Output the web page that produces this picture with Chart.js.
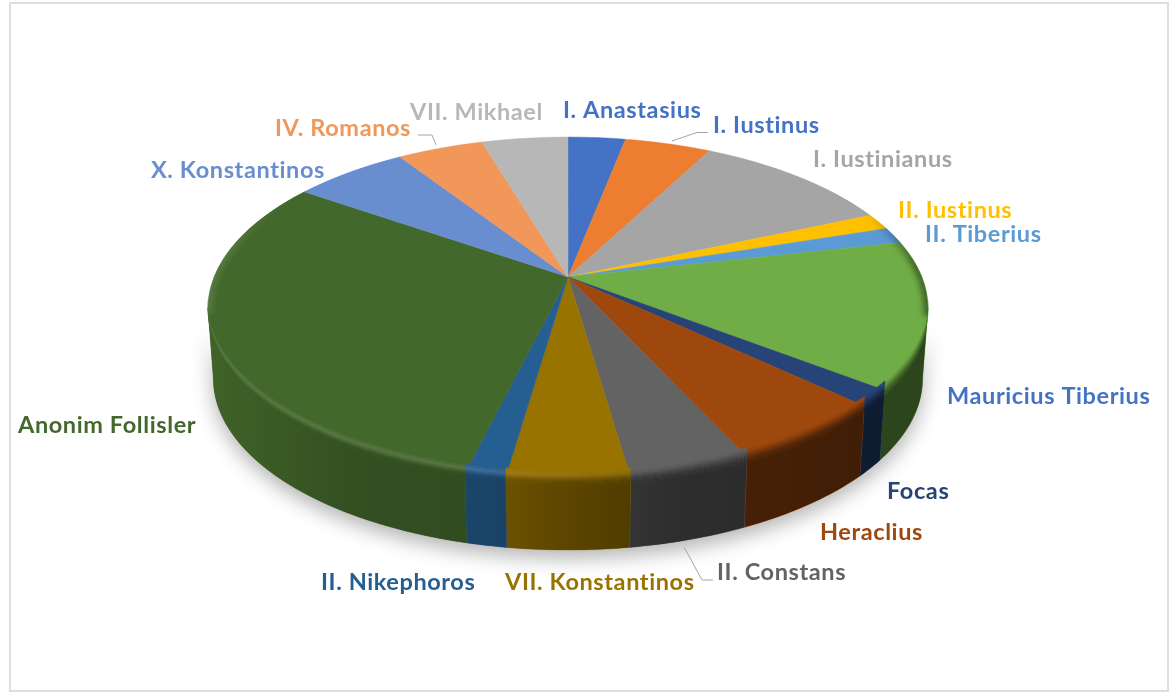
<!DOCTYPE html>
<html>
<head>
<meta charset="utf-8">
<script src="https://cdn.jsdelivr.net/npm/chart.js@4"></script>
<style>
  html, body { margin: 0; padding: 0; background: #fff; }
  #wrap { width: 1174px; height: 693px; }
</style>
</head>
<body>
<div id="wrap"><canvas id="pie"></canvas></div>
<script>
// sikke sayilari
const categories = ["I. Anastasius","I. Iustinus","I. Iustinianus","II. Iustinus","II. Tiberius","Mauricius Tiberius","Focas","Heraclius","II. Constans","VII. Konstantinos","II. Nikephoros","Anonim Follisler","X. Konstantinos","IV. Romanos","VII. Mikhael"];
const counts = [2,3,7,1,1,9,1,4,3,3,1,20,4,3,3];
const colors = ["#4472C4","#ED7D31","#A5A5A5","#FFC000","#5B9BD5","#70AD47","#264478","#9E480E","#636363","#997300","#255E91","#43682B","#698ED0","#F1975A","#B7B7B7"];
// two labels are not in their slice colour in the original
const labelColors = ["#4472C4","#4472C4","#A5A5A5","#FFC000","#5B9BD5","#4472C4","#264478","#9E480E","#636363","#997300","#255E91","#43682B","#698ED0","#F1975A","#B7B7B7"];

// where each label starts (left x, middle y)
const labelX = [563,713,813,898,925,947,887,820,717,505,321,18,151,275,410];
const labelY = [110,125,159,210,234,396,491,532,572,582,582,425,170,128,112];
const leaders = [
  [[672,141],[697,132.5],[708,132.5]],
  [[418,135],[432,135],[436,145]],
  [[684,547],[702,580],[713,580]]
];

// perspective of the disc: apex on screen, and how the flat circle maps to it
const apexX = 568, apexY = 277, persp = -0.1837, sx = 353.9, sy = 165.7;
const depth = 70, shrink = 0.015;
const rad = Math.PI / 180;

function rim(a, k) {
  const v = Math.sin(a), w = 1 + persp * v;
  const x = sx * Math.cos(a) / w;
  return [apexX + x * (1 - shrink * k / depth), apexY + sy * v / w + k];
}

function curve(ctx, a0, a1, k, back) {
  const n = Math.max(2, Math.ceil((a1 - a0) / rad));
  for (let i = 0; i <= n; i++) {
    const p = rim(back ? a1 - (a1 - a0) * i / n : a0 + (a1 - a0) * i / n, k);
    (i || back) ? ctx.lineTo(p[0], p[1]) : ctx.moveTo(p[0], p[1]);
  }
}

function band(ctx, a0, a1, k0, k1) {
  ctx.beginPath();
  curve(ctx, a0, a1, k0, false);
  curve(ctx, a0, a1, k1, true);
  ctx.closePath();
}

function stops(g, list) {
  list.forEach(s => g.addColorStop((s[0] - 208) / 720, s[1]));
  return g;
}

const disc3d = {
  id: 'disc3d',
  beforeDatasetDraw(chart) {
    const ctx = chart.ctx;
    const arcs = chart.getDatasetMeta(0).data;
    const cx = arcs[0].x, cy = arcs[0].y, R = arcs[0].outerRadius;
    const shade = stops(ctx.createLinearGradient(208, 0, 928, 0), [
      [208,'rgba(0,0,0,.05)'],[350,'rgba(0,0,0,.23)'],[490,'rgba(0,0,0,.28)'],[560,'rgba(0,0,0,.39)'],
      [680,'rgba(0,0,0,.54)'],[800,'rgba(0,0,0,.57)'],[870,'rgba(0,0,0,.6)'],[928,'rgba(0,0,0,.6)']]);
    const glow = stops(ctx.createLinearGradient(208, 0, 928, 0), [
      [208,'rgba(255,255,255,.14)'],[470,'rgba(255,255,255,.14)'],[620,'rgba(255,255,255,.05)'],[720,'rgba(255,255,255,0)'],[928,'rgba(255,255,255,0)']]);

    // the wall only shows between the two points where the rim turns back
    const from = 10.6 * rad, to = 169.4 * rad;

    // soft shadow under the disc
    ctx.save();
    ctx.shadowColor = 'rgba(0,0,0,.3)';
    ctx.shadowBlur = 20;
    ctx.shadowOffsetY = 8;
    ctx.fillStyle = '#555';
    band(ctx, from, to, 0, depth);
    ctx.fill();
    ctx.restore();

    // side wall
    arcs.forEach((arc, i) => {
      const a0 = Math.max(arc.startAngle, from), a1 = Math.min(arc.endAngle, to);
      if (a1 <= a0) return;
      band(ctx, a0, a1, 0, depth);
      ctx.fillStyle = colors[i];
      ctx.strokeStyle = colors[i];
      ctx.lineWidth = 0.5;
      ctx.fill();
      ctx.stroke();
      ctx.fillStyle = shade;
      ctx.fill();
    });

    // top face: canvas has no perspective transform, so draw the arcs line by line
    for (let y = 134; y < 484; y++) {
      const dy = y + 0.5 - apexY;
      const v = dy / (sy - persp * dy);
      const w = 1 + persp * v;
      const kx = sx / w / R, ky = sy / (w * w) / R;
      ctx.save();
      ctx.beginPath();
      ctx.rect(0, y, chart.width, 1);
      ctx.clip();
      ctx.setTransform(kx, 0, 0, ky, apexX - kx * cx, y + 0.5 - ky * (cy + v * R));
      arcs.forEach(arc => arc.draw(ctx));
      ctx.restore();
    }

    // rounded edge between top and wall
    for (let k = -10; k < 5; k++) {
      const t = (k + 10.5) / 15;
      arcs.forEach((arc, i) => {
        const a0 = Math.max(arc.startAngle, from), a1 = Math.min(arc.endAngle, to);
        if (a1 <= a0) return;
        band(ctx, a0, a1, k, k + 1.5);
        ctx.globalAlpha = 1;
        ctx.fillStyle = colors[i];
        ctx.fill();
        ctx.fillStyle = shade;
        ctx.globalAlpha = t * t * (3 - 2 * t);
        ctx.fill();
        ctx.fillStyle = glow;
        ctx.globalAlpha = Math.max(0, 1 - Math.abs(k + 5) / 5);
        ctx.fill();
      });
    }
    ctx.globalAlpha = 1;

    // rim at the two sides: dark on the right, lighter on the left
    ctx.save();
    ctx.beginPath();
    curve(ctx, 0, 2 * Math.PI, 0, false);
    ctx.closePath();
    ctx.clip();
    ctx.filter = 'blur(3px)';
    ctx.lineWidth = 8;
    for (let d = -26; d < 12; d += 3) {
      ctx.strokeStyle = 'rgba(0,0,0,' + (0.5 * Math.min(1, (d + 26) / 20)) + ')';
      ctx.beginPath();
      curve(ctx, d * rad, (d + 3) * rad, 0, false);
      ctx.stroke();
    }
    for (let d = 168; d < 206; d += 3) {
      ctx.strokeStyle = 'rgba(255,255,255,' + (0.14 * Math.min(1, (206 - d) / 20)) + ')';
      ctx.beginPath();
      curve(ctx, d * rad, (d + 3) * rad, 0, false);
      ctx.stroke();
    }
    ctx.restore();
    return false;
  },
  afterDraw(chart) {
    const ctx = chart.ctx;
    ctx.save();
    // frame
    ctx.strokeStyle = '#dedede';
    ctx.lineWidth = 2;
    ctx.strokeRect(10, 3, 1158, 688);
    // leader lines
    ctx.strokeStyle = '#a6a6a6';
    ctx.lineWidth = 1;
    leaders.forEach(l => {
      ctx.beginPath();
      l.forEach((p, i) => i ? ctx.lineTo(p[0], p[1]) : ctx.moveTo(p[0], p[1]));
      ctx.stroke();
    });
    // labels
    ctx.font = 'bold 23.5px Lato';
    ctx.letterSpacing = '0.6px';
    ctx.textBaseline = 'middle';
    categories.forEach((c, i) => {
      ctx.fillStyle = labelColors[i];
      ctx.fillText(c, labelX[i], labelY[i]);
    });
    ctx.restore();
  }
};

new Chart(document.getElementById('pie'), {
  type: 'pie',
  data: {
    labels: categories,
    datasets: [{
      data: counts,
      backgroundColor: colors,
      borderColor: colors,
      borderWidth: 0.7
    }]
  },
  options: {
    responsive: true,
    maintainAspectRatio: false,
    animation: false,
    plugins: { legend: { display: false }, tooltip: { enabled: false } }
  },
  plugins: [disc3d]
});
</script>
</body>
</html>
